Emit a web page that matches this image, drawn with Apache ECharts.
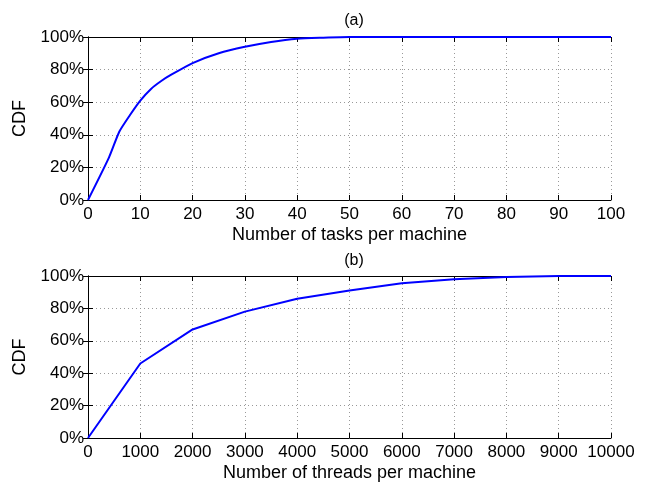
<!DOCTYPE html>
<html>
<head>
    <meta charset="utf-8">
    <title>CDF</title>
    <script src="https://cdn.jsdelivr.net/npm/echarts@6/dist/echarts.min.js"></script>
    <style>
        html, body { margin: 0; padding: 0; background: #fff; }
        #main { width: 649px; height: 483px; }
    </style>
</head>
<body>
    <div id="main"></div>
<script type="text/javascript">
    // (a) tasks per machine
    var tasksX = [0, 4, 6, 8, 10, 12, 14, 16, 20, 25, 30, 35, 40, 45, 50, 100];
    var tasksCdf = [0, 26, 42, 52, 61, 68, 73, 77, 84, 90, 94, 97, 99, 99.6, 100, 100];
    // (b) threads per machine
    var threadsX = [0, 1000, 2000, 3000, 4000, 5000, 6000, 7000, 8000, 9000, 10000];
    var threadsCdf = [0, 46, 67, 78, 86, 91, 95.5, 98, 99.4, 100, 100];

    var titles = ['(a)', '(b)'];
    var xNames = ['Number of tasks per machine', 'Number of threads per machine'];

    var font = 'Liberation Sans, Arial, Helvetica, sans-serif';
    var myChart = echarts.init(document.getElementById('main'));

    function pairs(xs, ys) {
        var out = [];
        for (var i = 0; i < xs.length; i++) out.push([xs[i], ys[i]]);
        return out;
    }

    function xAxisFor(idx, max, interval, pos, labels) {
        return {
            type: 'value', gridIndex: idx, min: 0, max: max, interval: interval,
            position: pos,
            name: labels ? xNames[idx] : '',
            nameLocation: 'middle', nameGap: 26,
            nameTextStyle: { color: '#000', fontSize: 18, fontFamily: font },
            axisLine: { show: true, onZero: false, lineStyle: { color: '#000', width: 1 } },
            axisTick: { show: true, inside: true, length: 5, lineStyle: { color: '#000' } },
            axisLabel: { show: labels, color: '#000', fontSize: 17, fontFamily: font, margin: 6,
                formatter: function(v) { return String(v); } },
            splitLine: labels ? { show: true, lineStyle: { color: '#999', type: [1, 3] } } : { show: false }
        };
    }

    function yAxisFor(idx, pos, labels) {
        return {
            type: 'value', gridIndex: idx, min: 0, max: 100, interval: 20,
            position: pos,
            name: labels ? 'CDF' : '',
            nameLocation: 'middle', nameGap: 59, nameRotate: 90,
            nameTextStyle: { color: '#000', fontSize: 18, fontFamily: font },
            axisLine: { show: true, lineStyle: { color: '#000', width: 1 } },
            axisTick: { show: true, inside: true, length: 5, lineStyle: { color: '#000' } },
            axisLabel: { show: labels, color: '#000', fontSize: 17, fontFamily: font, margin: 4,
                formatter: '{value}%' },
            splitLine: labels ? { show: true, lineStyle: { color: '#999', type: [1, 3] } } : { show: false }
        };
    }

    var option = {
        animation: false,
        title: [
            { text: titles[0], left: 349, top: 8, textAlign: 'center',
              textStyle: { color: '#000', fontSize: 16, fontWeight: 'normal', fontFamily: font } },
            { text: titles[1], left: 349, top: 248, textAlign: 'center',
              textStyle: { color: '#000', fontSize: 16, fontWeight: 'normal', fontFamily: font } }
        ],
        grid: [
            { left: 88, right: 38, top: 37, height: 163 },
            { left: 88, right: 38, top: 276, height: 163 }
        ],
        xAxis: [
            xAxisFor(0, 100, 10, 'bottom', true),
            xAxisFor(0, 100, 10, 'top', false),
            xAxisFor(1, 10000, 1000, 'bottom', true),
            xAxisFor(1, 10000, 1000, 'top', false)
        ],
        yAxis: [
            yAxisFor(0, 'left', true),
            yAxisFor(0, 'right', false),
            yAxisFor(1, 'left', true),
            yAxisFor(1, 'right', false)
        ],
        series: [
            { type: 'line', xAxisIndex: 0, yAxisIndex: 0, data: pairs(tasksX, tasksCdf),
              showSymbol: false, smooth: 0.2, lineStyle: { color: '#0000ff', width: 2 } },
            { type: 'line', xAxisIndex: 2, yAxisIndex: 2, data: pairs(threadsX, threadsCdf),
              showSymbol: false, lineStyle: { color: '#0000ff', width: 2 } }
        ]
    };

    myChart.setOption(option);
</script>
</body>
</html>
